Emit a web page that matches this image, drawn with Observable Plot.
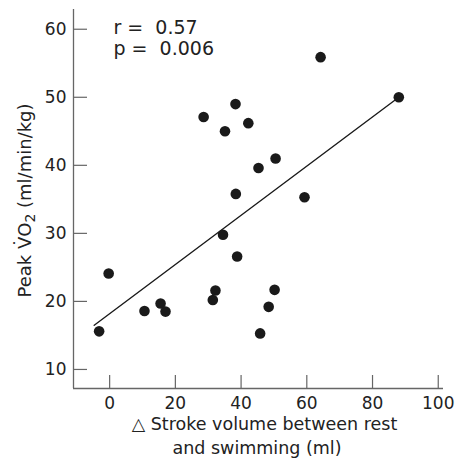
<!DOCTYPE html>
<html><head><meta charset="utf-8">
<script src="https://cdn.jsdelivr.net/npm/d3@7"></script>
<script src="https://cdn.jsdelivr.net/npm/@observablehq/plot@0.6"></script>
<style>
body{margin:0;background:#fff}
svg{font-family:"DejaVu Sans",sans-serif}
</style>
</head><body><div id="chart"></div>
<script>
const strokeVolume = [-3.2, -0.3, 10.6, 15.5, 17.0, 31.4, 32.2, 34.5, 38.8, 50.2, 48.4, 45.8, 38.4, 59.3, 50.5, 45.3, 35.1, 42.2, 28.6, 38.3, 88.0, 64.2];
const peakVO2 = [15.6, 24.1, 18.6, 19.7, 18.5, 20.2, 21.6, 29.8, 26.6, 21.7, 19.2, 15.3, 35.8, 35.3, 41.0, 39.6, 45.0, 46.2, 47.1, 49.0, 50.0, 55.9];
const xTicks = [0, 20, 40, 60, 80, 100];
const yTicks = [10, 20, 30, 40, 50, 60];
const fitX = [-4.7, 88];
const fitY = [16.5, 50];
const xDomain = [-11, 101.6];
const yDomain = [7.2, 62.9];
const statText = "r =\u00a0\u00a00.57\np =\u00a0\u00a00.006";
const xLabelLines = ["\u25b3 Stroke volume between rest", "and swimming (ml)"];
const yLabelParts = ["Peak ", "V", "\u02d9", "O", "2", " (ml/min/kg)"];

const points = strokeVolume.map((x, i) => ({x, y: peakVO2[i]}));
const fit = fitX.map((x, i) => ({x, y: fitY[i]}));

const chart = Plot.plot({
  width: 455,
  height: 465,
  marginLeft: 73,
  marginRight: 12,
  marginTop: 9,
  marginBottom: 77,
  style: {fontFamily: "DejaVu Sans", fontSize: "17px", color: "#222", background: "#fff"},
  x: {domain: xDomain},
  y: {domain: yDomain},
  marks: [
    Plot.ruleX([xDomain[0]], {stroke: "#666", strokeWidth: 1.3}),
    Plot.ruleY([yDomain[0]], {stroke: "#666", strokeWidth: 1.3}),
    Plot.axisX({ticks: xTicks, tickSize: -13, tickPadding: 21.5, stroke: "#666", strokeWidth: 1.2, fontSize: 17, label: null}),
    Plot.axisY({ticks: yTicks, tickSize: -14, tickPadding: 21, stroke: "#666", strokeWidth: 1.2, fontSize: 17, label: null}),
    Plot.line(fit, {x: "x", y: "y", stroke: "#1a1a1a", strokeWidth: 1.4}),
    Plot.dot(points, {x: "x", y: "y", r: 5.3, fill: "#1a1a1a", stroke: "none"}),
    Plot.text([statText], {frameAnchor: "top-left", text: d => d, dx: 40, dy: 45.5, textAnchor: "start", lineAnchor: "bottom", lineHeight: 1.08, fontSize: 19, fill: "#222"}),
    Plot.text([xLabelLines[0]], {frameAnchor: "bottom", text: d => d, dx: 6, dy: 41, textAnchor: "middle", lineAnchor: "bottom", fontSize: 17.5, fill: "#222"}),
    Plot.text([xLabelLines[1]], {frameAnchor: "bottom", text: d => d, dx: -1.5, dy: 65.5, textAnchor: "middle", lineAnchor: "bottom", fontSize: 17.5, fill: "#222"}),
    Plot.text([yLabelParts.join("")], {frameAnchor: "left", text: d => d, dx: -42.5, dy: 1.5, rotate: -90, textAnchor: "middle", lineAnchor: "bottom", fontSize: 18, fill: "#222", className: "ylab"})
  ]
});
// rebuild the y label with a dot over V and a real subscript
const ylab = d3.select(chart).select(".ylab text");
if (!ylab.empty()) {
  ylab.text(null);
  ylab.append("tspan").text(yLabelParts[0]);
  ylab.append("tspan").text(yLabelParts[1]);
  ylab.append("tspan").attr("dx", "-0.59em").attr("dy", "-0.22em").text(yLabelParts[2]);
  ylab.append("tspan").attr("dx", "0.09em").attr("dy", "0.22em").text(yLabelParts[3]);
  ylab.append("tspan").attr("dy", "0.3em").attr("font-size", "0.78em").text(yLabelParts[4]);
  ylab.append("tspan").attr("dy", "-0.234em").text(yLabelParts[5]);
}
document.getElementById("chart").appendChild(chart);
</script>
</body></html>
